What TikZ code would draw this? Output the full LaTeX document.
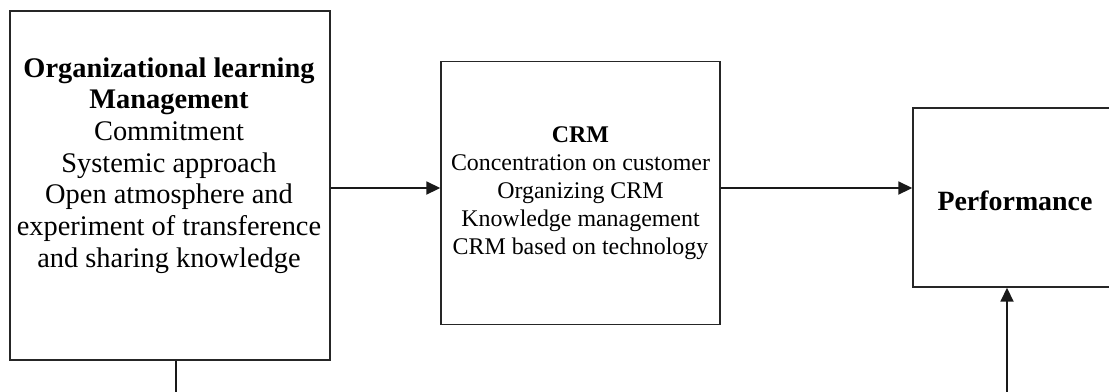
\documentclass[tikz,border=0pt]{standalone}
\usepackage{fontspec}
\setmainfont{Liberation Serif}
\usetikzlibrary{arrows.meta}
\begin{document}
\begin{tikzpicture}[x=1bp,y=-1bp,
  box/.style={draw=black!85, line width=1.4bp, rectangle, inner sep=0pt},
  conn/.style={draw=black!90, line width=1.8bp},
  arr/.style={conn, -{Triangle[length=14bp,width=13bp]}},
  bigtxt/.style={align=center, font=\fontsize{28.5}{31.8}\selectfont},
  perftxtstyle/.style={align=center, font=\fontsize{28}{32}\selectfont},
  midtxt/.style={align=center, font=\fontsize{24}{28.2}\selectfont}]
\useasboundingbox[fill=white] (0,0) rectangle (1109,391);
% boxes
\node[box, minimum width=320bp, minimum height=349bp] (left) at (170,185.5) {};
\node[bigtxt] (lefttxt) at (169,165.5) {\textbf{Organizational learning}\\\textbf{Management}\\Commitment\\Systemic approach\\Open atmosphere and\\experiment of transference\\and sharing knowledge};
\node[box, minimum width=279bp, minimum height=263bp, midtxt] (crm) at (580.5,193) {\textbf{CRM}\\Concentration on customer\\Organizing CRM\\Knowledge management\\CRM based on technology};
\node[box, minimum width=210bp, minimum height=179bp] (perf) at (1018,197.5) {};
\node[perftxtstyle] (perftxt) at (1015,201) {\textbf{Performance}};
% connectors
\coordinate (lvl) at (0,188);
\coordinate (b1) at (176,400);
\coordinate (b2) at (1007,400);
\draw[arr] (left.east |- lvl) -- (crm.west |- lvl);
\draw[arr] (crm.east |- lvl) -- (perf.west |- lvl);
\draw[conn, line width=1.4bp] (b1 |- left.south) -- (b1);
\draw[arr] (b2) -- (b2 |- perf.south);
\end{tikzpicture}
\end{document}
